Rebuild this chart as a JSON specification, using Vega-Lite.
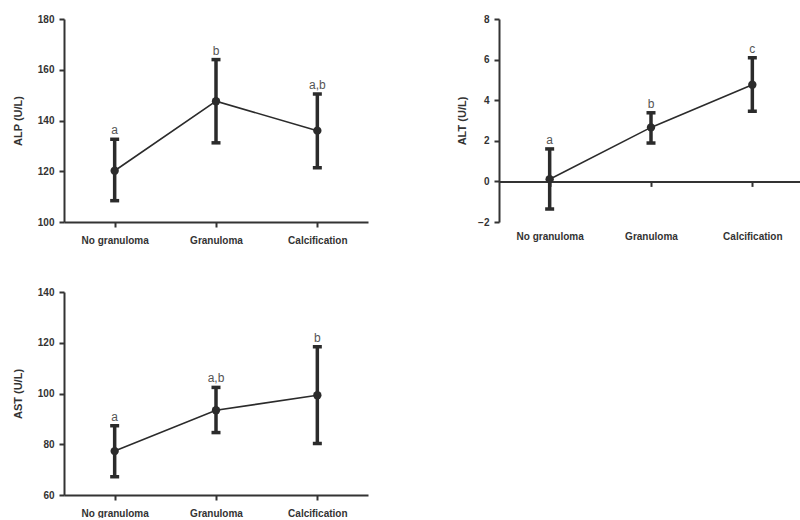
{
  "$schema": "https://vega.github.io/schema/vega-lite/v6.json",
  "padding": {"left": 12, "top": 14, "right": 0, "bottom": 0},
  "background": "white",
  "datasets": {
    "rows": [
      {"panel": "ALP", "group": "No granuloma", "mean": 120.2, "lo": 108.4, "hi": 132.6, "label": "a"},
      {"panel": "ALP", "group": "Granuloma", "mean": 147.6, "lo": 131.2, "hi": 164.0, "label": "b"},
      {"panel": "ALP", "group": "Calcification", "mean": 136.0, "lo": 121.4, "hi": 150.4, "label": "a,b"},
      {"panel": "ALT", "group": "No granuloma", "mean": 0.11, "lo": -1.36, "hi": 1.6, "label": "a"},
      {"panel": "ALT", "group": "Granuloma", "mean": 2.66, "lo": 1.89, "hi": 3.38, "label": "b"},
      {"panel": "ALT", "group": "Calcification", "mean": 4.76, "lo": 3.46, "hi": 6.09, "label": "c"},
      {"panel": "AST", "group": "No granuloma", "mean": 77.3, "lo": 67.2, "hi": 87.3, "label": "a"},
      {"panel": "AST", "group": "Granuloma", "mean": 93.4, "lo": 84.6, "hi": 102.4, "label": "a,b"},
      {"panel": "AST", "group": "Calcification", "mean": 99.3, "lo": 80.3, "hi": 118.4, "label": "b"}
    ]
  },
  "data": {"name": "rows"},
  "columns": 2,
  "spacing": {"column": 88, "row": 42},
  "concat": [
    {
      "width": 304, "height": 203,
      "transform": [{"filter": "datum.panel == 'ALP'"}],
      "encoding": {
        "x": {"field": "group", "type": "ordinal", "sort": ["No granuloma", "Granuloma", "Calcification"], "scale": {"type": "point", "padding": 0.5}, "axis": {"title": null, "labelAngle": 0, "labelPadding": 8}}
      },
      "layer": [
        {"mark": {"type": "rule", "strokeWidth": 3.5, "color": "#2b2b2b"}, "encoding": {"y": {"field": "lo", "type": "quantitative", "title": "ALP (U/L)", "scale": {"domain": [100, 180], "nice": false, "zero": false}, "axis": {"values": [100, 120, 140, 160, 180], "titlePadding": 14, "labelPadding": 5}}, "y2": {"field": "hi"}}},
        {"mark": {"type": "tick", "orient": "horizontal", "size": 9, "thickness": 3.5, "opacity": 1, "color": "#2b2b2b"}, "encoding": {"y": {"field": "lo", "type": "quantitative", "title": "ALP (U/L)", "scale": {"domain": [100, 180], "nice": false, "zero": false}}}},
        {"mark": {"type": "tick", "orient": "horizontal", "size": 9, "thickness": 3.5, "opacity": 1, "color": "#2b2b2b"}, "encoding": {"y": {"field": "hi", "type": "quantitative", "title": "ALP (U/L)", "scale": {"domain": [100, 180], "nice": false, "zero": false}}}},
        {"mark": {"type": "line", "strokeWidth": 1.6, "color": "#2b2b2b"}, "encoding": {"y": {"field": "mean", "type": "quantitative", "title": "ALP (U/L)", "scale": {"domain": [100, 180], "nice": false, "zero": false}}}},
        {"mark": {"type": "point", "filled": true, "size": 70, "opacity": 1, "color": "#2b2b2b"}, "encoding": {"y": {"field": "mean", "type": "quantitative", "title": "ALP (U/L)", "scale": {"domain": [100, 180], "nice": false, "zero": false}}}},
        {"mark": {"type": "text", "baseline": "bottom", "dy": -2, "fontSize": 12, "color": "#555555", "font": "Liberation Sans"}, "encoding": {"y": {"field": "hi", "type": "quantitative", "title": "ALP (U/L)", "scale": {"domain": [100, 180], "nice": false, "zero": false}}, "text": {"field": "label"}}}
      ]
    },
    {
      "width": 304, "height": 203,
      "transform": [{"filter": "datum.panel == 'ALT'"}],
      "encoding": {
        "x": {"field": "group", "type": "ordinal", "sort": ["No granuloma", "Granuloma", "Calcification"], "scale": {"type": "point", "padding": 0.5}, "axis": {"title": null, "labelAngle": 0, "offset": -40.6, "labelPadding": 45}}
      },
      "layer": [
        {"mark": {"type": "rule", "strokeWidth": 3.5, "color": "#2b2b2b"}, "encoding": {"y": {"field": "lo", "type": "quantitative", "title": "ALT (U/L)", "scale": {"domain": [-2, 8], "nice": false, "zero": false}, "axis": {"values": [-2, 0, 2, 4, 6, 8], "titlePadding": 10, "labelPadding": 5}}, "y2": {"field": "hi"}}},
        {"mark": {"type": "tick", "orient": "horizontal", "size": 9, "thickness": 3.5, "opacity": 1, "color": "#2b2b2b"}, "encoding": {"y": {"field": "lo", "type": "quantitative", "title": "ALT (U/L)", "scale": {"domain": [-2, 8], "nice": false, "zero": false}}}},
        {"mark": {"type": "tick", "orient": "horizontal", "size": 9, "thickness": 3.5, "opacity": 1, "color": "#2b2b2b"}, "encoding": {"y": {"field": "hi", "type": "quantitative", "title": "ALT (U/L)", "scale": {"domain": [-2, 8], "nice": false, "zero": false}}}},
        {"mark": {"type": "line", "strokeWidth": 1.6, "color": "#2b2b2b"}, "encoding": {"y": {"field": "mean", "type": "quantitative", "title": "ALT (U/L)", "scale": {"domain": [-2, 8], "nice": false, "zero": false}}}},
        {"mark": {"type": "point", "filled": true, "size": 70, "opacity": 1, "color": "#2b2b2b"}, "encoding": {"y": {"field": "mean", "type": "quantitative", "title": "ALT (U/L)", "scale": {"domain": [-2, 8], "nice": false, "zero": false}}}},
        {"mark": {"type": "text", "baseline": "bottom", "dy": -2, "fontSize": 12, "color": "#555555", "font": "Liberation Sans"}, "encoding": {"y": {"field": "hi", "type": "quantitative", "title": "ALT (U/L)", "scale": {"domain": [-2, 8], "nice": false, "zero": false}}, "text": {"field": "label"}}}
      ]
    },
    {
      "width": 304, "height": 203,
      "transform": [{"filter": "datum.panel == 'AST'"}],
      "encoding": {
        "x": {"field": "group", "type": "ordinal", "sort": ["No granuloma", "Granuloma", "Calcification"], "scale": {"type": "point", "padding": 0.5}, "axis": {"title": null, "labelAngle": 0, "labelPadding": 8}}
      },
      "layer": [
        {"mark": {"type": "rule", "strokeWidth": 3.5, "color": "#2b2b2b"}, "encoding": {"y": {"field": "lo", "type": "quantitative", "title": "AST (U/L)", "scale": {"domain": [60, 140], "nice": false, "zero": false}, "axis": {"values": [60, 80, 100, 120, 140], "titlePadding": 14, "labelPadding": 5}}, "y2": {"field": "hi"}}},
        {"mark": {"type": "tick", "orient": "horizontal", "size": 9, "thickness": 3.5, "opacity": 1, "color": "#2b2b2b"}, "encoding": {"y": {"field": "lo", "type": "quantitative", "title": "AST (U/L)", "scale": {"domain": [60, 140], "nice": false, "zero": false}}}},
        {"mark": {"type": "tick", "orient": "horizontal", "size": 9, "thickness": 3.5, "opacity": 1, "color": "#2b2b2b"}, "encoding": {"y": {"field": "hi", "type": "quantitative", "title": "AST (U/L)", "scale": {"domain": [60, 140], "nice": false, "zero": false}}}},
        {"mark": {"type": "line", "strokeWidth": 1.6, "color": "#2b2b2b"}, "encoding": {"y": {"field": "mean", "type": "quantitative", "title": "AST (U/L)", "scale": {"domain": [60, 140], "nice": false, "zero": false}}}},
        {"mark": {"type": "point", "filled": true, "size": 70, "opacity": 1, "color": "#2b2b2b"}, "encoding": {"y": {"field": "mean", "type": "quantitative", "title": "AST (U/L)", "scale": {"domain": [60, 140], "nice": false, "zero": false}}}},
        {"mark": {"type": "text", "baseline": "bottom", "dy": -2, "fontSize": 12, "color": "#555555", "font": "Liberation Sans"}, "encoding": {"y": {"field": "hi", "type": "quantitative", "title": "AST (U/L)", "scale": {"domain": [60, 140], "nice": false, "zero": false}}, "text": {"field": "label"}}}
      ]
    }
  ],
  "config": {
    "view": {"stroke": null},
    "font": "Liberation Sans",
    "axis": {
      "grid": false,
      "domainColor": "#333333", "domainWidth": 2,
      "tickColor": "#333333", "tickWidth": 2, "tickSize": 5,
      "labelFont": "Liberation Sans", "labelFontWeight": "bold", "labelFontSize": 10, "labelColor": "#333333",
      "titleFont": "Liberation Sans", "titleFontWeight": "bold", "titleFontSize": 11, "titleColor": "#333333"
    }
  }
}
